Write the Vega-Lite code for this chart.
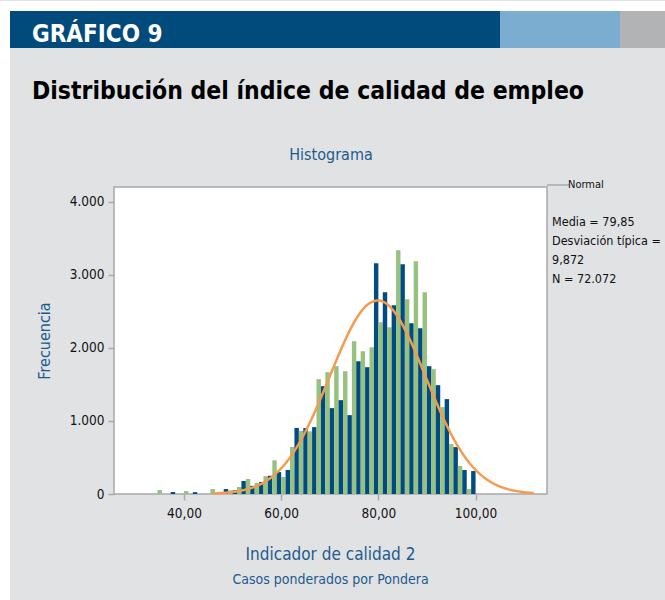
{
  "$schema": "https://vega.github.io/schema/vega-lite/v6.json",
  "background": "#e1e2e4",
  "padding": 0,
  "spacing": 0,
  "config": {
    "view": {"stroke": null},
    "concat": {"spacing": 0},
    "font": "DejaVu Sans Condensed, Liberation Sans, sans-serif",
    "locale": {"number": {"decimal": ",", "thousands": ".", "grouping": [3], "currency": ["", " €"]}}
  },
  "datasets": {
    "blank": [{}],
    "banner": [{"label": "GRÁFICO 9"}],
    "bars": [
      {"x0": 34.55, "x1": 35.45, "f": 55, "serie": "2"},
      {"x0": 37.27, "x1": 38.18, "f": 27, "serie": "1"},
      {"x0": 40.00, "x1": 40.91, "f": 40, "serie": "2"},
      {"x0": 41.82, "x1": 42.73, "f": 25, "serie": "1"},
      {"x0": 45.45, "x1": 46.36, "f": 68, "serie": "2"},
      {"x0": 46.36, "x1": 47.27, "f": 10, "serie": "1"},
      {"x0": 47.27, "x1": 48.18, "f": 20, "serie": "2"},
      {"x0": 48.18, "x1": 49.09, "f": 68, "serie": "1"},
      {"x0": 49.09, "x1": 50.00, "f": 50, "serie": "2"},
      {"x0": 50.00, "x1": 50.91, "f": 50, "serie": "1"},
      {"x0": 50.91, "x1": 51.82, "f": 96, "serie": "2"},
      {"x0": 51.82, "x1": 52.73, "f": 178, "serie": "1"},
      {"x0": 52.73, "x1": 53.64, "f": 205, "serie": "2"},
      {"x0": 53.64, "x1": 54.55, "f": 112, "serie": "1"},
      {"x0": 54.55, "x1": 55.45, "f": 150, "serie": "2"},
      {"x0": 55.45, "x1": 56.36, "f": 164, "serie": "1"},
      {"x0": 56.36, "x1": 57.27, "f": 245, "serie": "2"},
      {"x0": 57.27, "x1": 58.18, "f": 250, "serie": "1"},
      {"x0": 58.18, "x1": 59.09, "f": 460, "serie": "2"},
      {"x0": 59.09, "x1": 60.00, "f": 300, "serie": "1"},
      {"x0": 60.00, "x1": 60.91, "f": 233, "serie": "2"},
      {"x0": 60.91, "x1": 61.82, "f": 329, "serie": "1"},
      {"x0": 61.82, "x1": 62.73, "f": 644, "serie": "2"},
      {"x0": 62.73, "x1": 63.64, "f": 904, "serie": "1"},
      {"x0": 63.64, "x1": 64.55, "f": 863, "serie": "2"},
      {"x0": 64.55, "x1": 65.45, "f": 902, "serie": "1"},
      {"x0": 65.45, "x1": 66.36, "f": 857, "serie": "2"},
      {"x0": 66.36, "x1": 67.27, "f": 915, "serie": "1"},
      {"x0": 67.27, "x1": 68.18, "f": 1571, "serie": "2"},
      {"x0": 68.18, "x1": 69.09, "f": 1475, "serie": "1"},
      {"x0": 69.09, "x1": 70.00, "f": 1667, "serie": "2"},
      {"x0": 70.00, "x1": 70.91, "f": 1175, "serie": "1"},
      {"x0": 70.91, "x1": 71.82, "f": 1749, "serie": "2"},
      {"x0": 71.82, "x1": 72.73, "f": 1284, "serie": "1"},
      {"x0": 72.73, "x1": 73.64, "f": 1680, "serie": "2"},
      {"x0": 73.64, "x1": 74.55, "f": 1079, "serie": "1"},
      {"x0": 74.55, "x1": 75.45, "f": 2090, "serie": "2"},
      {"x0": 75.45, "x1": 76.36, "f": 1817, "serie": "1"},
      {"x0": 76.36, "x1": 77.27, "f": 1954, "serie": "2"},
      {"x0": 77.27, "x1": 78.18, "f": 1735, "serie": "1"},
      {"x0": 78.18, "x1": 79.09, "f": 2008, "serie": "2"},
      {"x0": 79.09, "x1": 80.00, "f": 3156, "serie": "1"},
      {"x0": 80.00, "x1": 80.91, "f": 2350, "serie": "2"},
      {"x0": 80.91, "x1": 81.82, "f": 2760, "serie": "1"},
      {"x0": 81.82, "x1": 82.73, "f": 2281, "serie": "2"},
      {"x0": 82.73, "x1": 83.64, "f": 2582, "serie": "1"},
      {"x0": 83.64, "x1": 84.55, "f": 3333, "serie": "2"},
      {"x0": 84.55, "x1": 85.45, "f": 3142, "serie": "1"},
      {"x0": 85.45, "x1": 86.36, "f": 2664, "serie": "2"},
      {"x0": 86.36, "x1": 87.27, "f": 2336, "serie": "1"},
      {"x0": 87.27, "x1": 88.18, "f": 3183, "serie": "2"},
      {"x0": 88.18, "x1": 89.09, "f": 2268, "serie": "1"},
      {"x0": 89.09, "x1": 90.00, "f": 2760, "serie": "2"},
      {"x0": 90.00, "x1": 90.91, "f": 1749, "serie": "1"},
      {"x0": 90.91, "x1": 91.82, "f": 1708, "serie": "2"},
      {"x0": 91.82, "x1": 92.73, "f": 1489, "serie": "1"},
      {"x0": 92.73, "x1": 93.64, "f": 1189, "serie": "2"},
      {"x0": 93.64, "x1": 94.55, "f": 1298, "serie": "1"},
      {"x0": 94.55, "x1": 95.45, "f": 683, "serie": "2"},
      {"x0": 95.45, "x1": 96.36, "f": 642, "serie": "1"},
      {"x0": 96.36, "x1": 97.27, "f": 383, "serie": "2"},
      {"x0": 97.27, "x1": 98.18, "f": 328, "serie": "1"},
      {"x0": 98.18, "x1": 99.09, "f": 68, "serie": "2"},
      {"x0": 99.09, "x1": 100.00, "f": 314, "serie": "1"}
    ],
    "curve": [
      {"cx": 46, "cy": 7}, {"cx": 48, "cy": 15}, {"cx": 50, "cy": 27}, {"cx": 52, "cy": 50},
      {"cx": 54, "cy": 86}, {"cx": 56, "cy": 143}, {"cx": 58, "cy": 229}, {"cx": 60, "cy": 351},
      {"cx": 62, "cy": 516}, {"cx": 64, "cy": 730}, {"cx": 66, "cy": 990}, {"cx": 68, "cy": 1288},
      {"cx": 70, "cy": 1610}, {"cx": 72, "cy": 1930}, {"cx": 74, "cy": 2221}, {"cx": 76, "cy": 2454},
      {"cx": 78, "cy": 2602}, {"cx": 80, "cy": 2648}, {"cx": 82, "cy": 2586}, {"cx": 84, "cy": 2424},
      {"cx": 86, "cy": 2181}, {"cx": 88, "cy": 1883}, {"cx": 90, "cy": 1561}, {"cx": 92, "cy": 1242},
      {"cx": 94, "cy": 948}, {"cx": 96, "cy": 695}, {"cx": 98, "cy": 489}, {"cx": 100, "cy": 330},
      {"cx": 102, "cy": 214}, {"cx": 104, "cy": 133}, {"cx": 106, "cy": 79}, {"cx": 108, "cy": 45},
      {"cx": 110, "cy": 25}, {"cx": 112, "cy": 13}
    ]
  },
  "hconcat": [
    {"width": 10, "height": 600, "data": {"name": "blank"}, "mark": {"type": "text", "text": ""}, "view": {"fill": "white"}},
    {
      "spacing": 0,
      "vconcat": [
        {"width": 655, "height": 10, "data": {"name": "blank"}, "mark": {"type": "text", "text": ""}, "view": {"fill": "white"}},
        {
          "spacing": 0,
          "hconcat": [
            {"width": 490, "height": 37, "data": {"name": "banner"},
             "mark": {"type": "text", "align": "left", "baseline": "alphabetic", "x": 22, "y": 31, "fontSize": 24, "fontWeight": "bold", "fill": "white"},
             "encoding": {"text": {"field": "label"}},
             "view": {"fill": "#004a7c"}},
            {"width": 120, "height": 37, "data": {"name": "blank"}, "mark": {"type": "text", "text": ""}, "view": {"fill": "#7aadcf"}},
            {"width": 45, "height": 37, "data": {"name": "blank"}, "mark": {"type": "text", "text": ""}, "view": {"fill": "#b2b3b5"}}
          ]
        },
        {"width": 655, "height": 30, "data": {"name": "blank"}, "mark": {"type": "text", "text": ""}},
        {
          "title": {"text": "Distribución del índice de calidad de empleo", "anchor": "start", "frame": "bounds", "fontSize": 24.5, "fontWeight": "bold", "color": "#000000", "dx": 22, "offset": 41},
          "spacing": 0,
          "hconcat": [
            {"width": 25, "height": 1, "data": {"name": "blank"}, "mark": {"type": "text", "text": ""}},
            {
              "width": 433,
              "height": 307,
              "view": {"fill": "white", "stroke": "#a7a9ac", "strokeWidth": 1.5},
              "title": {"text": "Indicador de calidad 2", "subtitle": "Casos ponderados por Pondera", "orient": "bottom", "anchor": "middle", "frame": "group",
                        "fontSize": 17, "subtitleFontSize": 14,
                        "fontWeight": "normal", "subtitleFontWeight": "normal", "color": "#1d5b8f", "subtitleColor": "#1d5b8f", "offset": 27, "subtitlePadding": 9},
              "resolve": {"axis": {"x": "independent"}},
              "layer": [
                {
                  "data": {"name": "bars"},
                  "mark": {"type": "rect"},
                  "encoding": {
                    "x": {"field": "x0", "type": "quantitative",
                          "scale": {"domain": [25.6, 114.7], "nice": false, "zero": false},
                          "axis": {"orient": "bottom", "values": [40, 60, 80, 100], "format": ".2f", "title": null,
                                   "labelFontSize": 13.5, "labelColor": "#111111",
                                   "tickColor": "#a7a9ac", "tickWidth": 1.5, "tickSize": 6, "labelPadding": 6, "domain": false, "grid": false}},
                    "x2": {"field": "x1"},
                    "y": {"field": "f", "type": "quantitative",
                          "scale": {"domain": [0, 4200], "nice": false},
                          "axis": {"values": [0, 1000, 2000, 3000, 4000], "format": ",d", "title": "Frecuencia",
                                   "titleColor": "#1d5b8f", "titleFontSize": 16, "titleFontWeight": "normal", "titlePadding": 17,
                                   "labelFontSize": 13.5, "labelColor": "#111111",
                                   "tickColor": "#a7a9ac", "tickWidth": 1.5, "tickSize": 6, "labelPadding": 4, "domain": false, "grid": false}},
                    "color": {"field": "serie", "type": "nominal", "scale": {"domain": ["1", "2"], "range": ["#004b82", "#97c17e"]}, "legend": null}
                  }
                },
                {
                  "data": {"name": "curve"},
                  "mark": {"type": "line", "stroke": "#f59b4e", "strokeWidth": 2.5, "interpolate": "monotone"},
                  "encoding": {
                    "x": {"field": "cx", "type": "quantitative",
                          "axis": {"orient": "top", "title": "Histograma", "labels": false, "ticks": false, "domain": false, "grid": false,
                                   "titleFontSize": 16, "titleFontWeight": "normal", "titleColor": "#1d5b8f", "titlePadding": 25}},
                    "y": {"field": "cy", "type": "quantitative"},
                    "strokeDash": {"datum": "Normal", "type": "nominal", "scale": {"range": [[1, 0]]},
                               "legend": {"orient": "none", "legendX": 552, "legendY": 172,
                                          "title": ["Media = 79,85", "Desviación típica =", "9,872", "N = 72.072"],
                                          "titleOrient": "bottom", "titleAnchor": "start", "titleFontSize": 12.5,
                                          "titleFontWeight": "normal", "titleColor": "#111111", "titleLineHeight": 19, "titlePadding": 26, "titleLimit": 300,
                                          "labelFontSize": 11, "labelColor": "#111111",
                                          "symbolType": "stroke", "symbolSize": 484, "symbolStrokeWidth": 1.5, "symbolStrokeColor": "#a7a9ac",
                                          "symbolOffset": -6, "labelOffset": -2, "padding": 0}}
                  }
                }
              ]
            }
          ]
        }
      ]
    }
  ]
}
